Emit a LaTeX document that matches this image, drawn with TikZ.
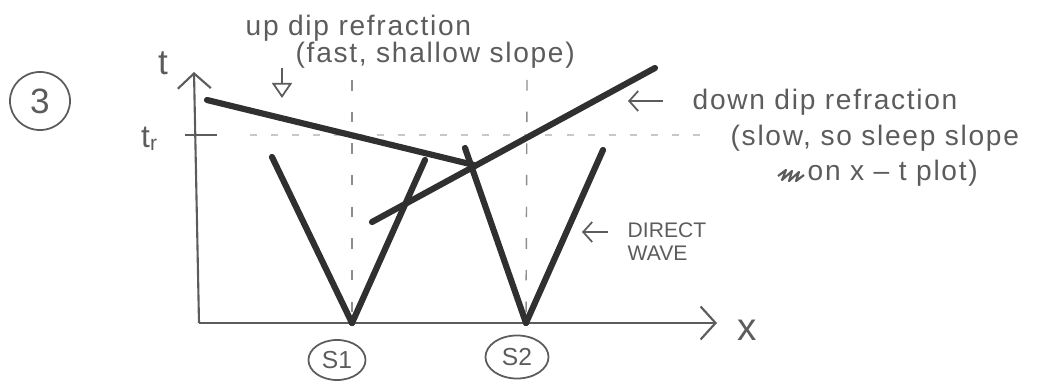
\documentclass[tikz,border=0pt]{standalone}
\usepackage{fontspec}
\setmainfont{Liberation Sans}
\usetikzlibrary{arrows.meta,positioning,calc,shapes.geometric}
\definecolor{skink}{RGB}{48,48,48}
\definecolor{skpen}{RGB}{92,92,92}
\definecolor{skguide}{RGB}{140,140,140}
\definecolor{sklevel}{RGB}{200,200,200}
\tikzset{
  wave/.style={draw=skink, line width=1.75pt, line cap=round},
  axis/.style={draw=skpen, line width=0.6pt},
  guide/.style={draw=skguide, line width=0.4pt, dash pattern=on 3pt off 6pt},
  level/.style={draw=sklevel, line width=0.6pt, dash pattern=on 2pt off 4pt},
  note/.style={font=\fontsize{8}{10}\selectfont\addfontfeatures{LetterSpace=6},
    text=skpen, inner sep=0pt, anchor=base west},
  caps/.style={font=\fontsize{6}{7.5}\selectfont, text=skpen, inner sep=0pt, anchor=base west},
  tag/.style={draw=skpen, ellipse, line width=0.5pt, inner sep=0pt, text=skpen},
  barb/.style={-{Straight Barb[length=1.5mm,width=3.3mm]}, axis},
  parr/.style={-{Straight Barb[length=0.9mm,width=2mm]}, draw=skpen, line width=0.5pt},
  darr/.style={-{Triangle[open,length=1.5mm,width=2mm]}, draw=skpen, line width=0.5pt},
  every picture/.append style={line join=round}
}

\begin{document}
\begin{tikzpicture}[x=0.01cm, y=-0.01cm]
  \useasboundingbox (0,0) rectangle (1060,382);
  % panel number
  \node[tag, minimum width=6mm, minimum height=5.8mm, font=\fontsize{10}{12}\selectfont] (num) at (40,101) {3};
  % axes
  \coordinate (o) at (199,323);
  \coordinate (ytop) at (194,72);
  \coordinate (xend) at (717,323);
  \draw[barb] (o) -- (ytop);
  \draw[barb] (o) -- (xend);
  \node[font=\fontsize{10}{12}\selectfont, text=skpen] (tlab) at (163,63) {t};
  \node[font=\fontsize{11}{13}\selectfont, text=skpen] (xlab) at (747,330) {x};
  % t_r level
  \coordinate (trl) at (185,135);
  \coordinate (trr) at (217,135);
  \draw[axis] (trl) -- (trr);
  \node[font=\fontsize{9}{11}\selectfont, text=skpen] (trlab) at (150,139) {t\textsubscript{r}};
  \coordinate (lv1) at (250,135);
  \coordinate (lv2) at (700,135);
  \draw[level] (lv1) -- (lv2);
  % shot points
  \coordinate (s1) at (352,323);
  \coordinate (s2) at (526,323);
  \coordinate (g1) at (352,80);
  \coordinate (g2) at (527,80);
  \draw[guide] (g1) -- (s1);
  \draw[guide] (g2) -- (s2);
  \node[tag, minimum width=5.7mm, minimum height=4mm, font=\fontsize{7}{8}\selectfont] (s1tag) at (337,360) {S1};
  \node[tag, minimum width=6.3mm, minimum height=4.3mm, font=\fontsize{7}{8}\selectfont] (s2tag) at (517,357) {S2};
  % direct waves
  \coordinate (a1) at (272,157);
  \coordinate (b1) at (425,160);
  \coordinate (a2) at (465,148);
  \coordinate (b2) at (603,150);
  \foreach \p/\q in {a1/s1,s1/b1,a2/s2,s2/b2} \draw[wave] (\p) -- (\q);
  % refractions
  \coordinate (ud1) at (207,100);
  \coordinate (ud2) at (474,165);
  \coordinate (dd1) at (372,222);
  \coordinate (dd2) at (655,68);
  \draw[wave] (ud1) -- (ud2);
  \draw[wave] (dd1) -- (dd2);
  % labels
  \node[note] (updip) at (245,36) {up dip refraction};
  \node[note] (updip2) at (295,63) {(fast, shallow slope)};
  \coordinate (up1) at (282,68);
  \coordinate (up2) at (282,98);
  \draw[darr] (up1) -- (up2);
  \node[note] (dndip) at (692,110) {down dip refraction};
  \node[note] (dndip2) at (730,146) {(slow, so sleep slope};
  \node[note] (dndip3) at (807,181) {on x – t plot)};
  \draw[skpen, line width=0.6pt] (778,176) -- (786,170) -- (782,180) -- (792,171) -- (789,181) -- (799,172) -- (796,181) -- (804,175);
  \coordinate (dn1) at (663,101);
  \coordinate (dn2) at (628,101);
  \draw[parr] (dn1) -- (dn2);
  \node[caps] (direct) at (627,238) {DIRECT};
  \node[caps, below=2.2mm of direct.base west, anchor=base west] (wave) {WAVE};
  \coordinate (dw1) at (608,232);
  \coordinate (dw2) at (582,232);
  \draw[parr] (dw1) -- (dw2);
\end{tikzpicture}
\end{document}
